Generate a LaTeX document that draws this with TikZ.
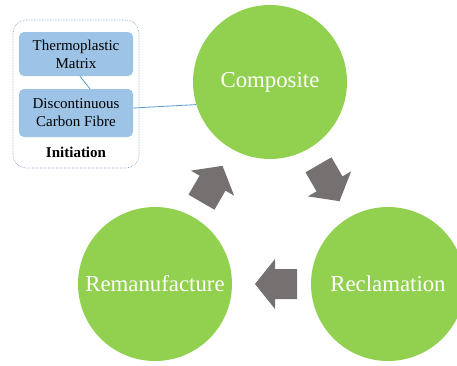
\documentclass[tikz,border=0pt]{standalone}
\usepackage{fontspec}
\setmainfont{Liberation Serif}
\usetikzlibrary{positioning}

\definecolor{stagegreen}{HTML}{92D050}
\definecolor{arrowgray}{HTML}{767171}
\definecolor{partblue}{HTML}{9DC3E6}
\definecolor{linkblue}{HTML}{5B9BD5}
\definecolor{framegray}{HTML}{7F9DBF}

\begin{document}
\begin{tikzpicture}[x=1pt, y=-1pt,
  stage/.style={circle, fill=stagegreen, minimum size=154pt, inner sep=0pt,
    text=white, font=\fontsize{22.8}{27}\selectfont},
  turn/.style={fill=arrowgray},
  part/.style={rounded corners=5pt, fill=partblue, minimum width=114pt, inner sep=0pt,
    align=center, font=\fontsize{15}{18}\selectfont},
  frame/.style={draw=framegray, densely dotted, line width=0.6pt, rounded corners=13pt,
    minimum width=126pt, minimum height=148pt},
  link/.style={draw=linkblue, line width=0.8pt}]

\useasboundingbox (0,0) rectangle (457,365);

\node[frame] (init) at (76,94) {};
\node[part, minimum height=44pt] (matrix) at (76,54) {Thermoplastic\\Matrix};
\node[part, minimum height=48pt] (fibre) at (76,113) {Discontinuous\\Carbon Fibre};
\node[font=\bfseries\fontsize{15}{18}\selectfont] (initlabel) at (76,152) {Initiation};

\foreach \n/\t/\x/\y in {composite/Composite/270/82, reclaim/Reclamation/388/284,
    remanu/Remanufacture/155/284}
  \node[stage] (\n) at (\x,\y) {\t};

\foreach \a/\x/\y in {-60/329/183, 180/276/284, 60/212/184}
  \fill[turn, shift={(\x,\y)}, rotate=\a]
    (-21,-15) -- (1,-15) -- (1,-25) -- (21,0) -- (1,25) -- (1,15) -- (-21,15) -- cycle;

\draw[link] (matrix.-80) -- (fibre.60);
\draw[link] (fibre.5) -- (composite.197);

\end{tikzpicture}
\end{document}
